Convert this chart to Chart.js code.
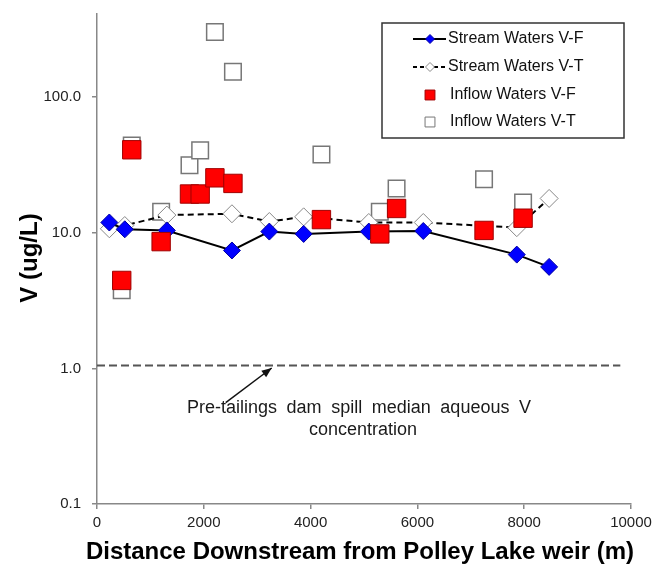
<!DOCTYPE html>
<html>
<head>
<meta charset="utf-8">
<script src="https://cdn.jsdelivr.net/npm/chart.js@4.4.0/dist/chart.umd.min.js"></script>
<style>
  html, body { margin: 0; padding: 0; background: #fff; }
  #wrap { width: 657px; height: 567px; }
</style>
</head>
<body>
<div id="wrap"><canvas id="vChart" width="657" height="567"></canvas></div>
<script>
// ===== Data =====
const streamDist = [231, 520, 1308, 2527, 3227, 3870, 5090, 6110, 7861, 8467];
const streamVF = [11.9, 10.6, 10.4, 7.4, 10.2, 9.8, 10.2, 10.3, 6.9, 5.6];
const streamVT = [10.7, 11.3, 13.5, 13.8, 12.1, 13.1, 11.9, 11.9, 10.9, 17.9];

const inflowDist = [463, 651, 1201, 1732, 1932, 2208, 2546, 4203, 5296, 5610, 7248, 7979];
const inflowVF = [4.45, 40.9, 8.6, 19.3, 19.3, 25.4, 23.1, 12.5, 9.8, 15.1, 10.4, 12.8];
const inflowVT = [3.77, 44, 14.3, 31.4, 40.5, 302, 154, 37.8, 14.3, 21.2, 24.8, 16.7];

// pre-tailings median and the distance span of its reference line
const baselineValue = 1.05;
const baselineSpan = [0, 9800];

const yTicks = [0.1, 1, 10, 100];
const yTickLabels = ['0.1', '1.0', '10.0', '100.0'];
const xTickLabels = ['0', '2000', '4000', '6000', '8000', '10000'];

const FONT = '"Liberation Sans", Arial, sans-serif';

const toXY = (xs, ys) => xs.map((x, i) => ({ x: x, y: ys[i] }));

// ===== Extra drawing: annotation, axis titles, legend box =====
const extras = {
  id: 'extras',
  afterDraw(chart) {
    const ctx = chart.ctx;
    const h = Chart.helpers;
    ctx.save();

    // arrow to the baseline
    const ax0 = 225.7, ay0 = 402.7, ax1 = 271.7, ay1 = 368;
    ctx.strokeStyle = '#111';
    ctx.fillStyle = '#111';
    ctx.lineWidth = 1.5;
    ctx.beginPath();
    ctx.moveTo(ax0, ay0);
    ctx.lineTo(ax1, ay1);
    ctx.stroke();
    const ang = Math.atan2(ay1 - ay0, ax1 - ax0);
    ctx.beginPath();
    ctx.moveTo(ax1, ay1);
    ctx.lineTo(ax1 - 10 * Math.cos(ang) + 4 * Math.sin(ang), ay1 - 10 * Math.sin(ang) - 4 * Math.cos(ang));
    ctx.lineTo(ax1 - 10 * Math.cos(ang) - 4 * Math.sin(ang), ay1 - 10 * Math.sin(ang) + 4 * Math.cos(ang));
    ctx.closePath();
    ctx.fill();

    // annotation text
    ctx.font = '18px ' + FONT;
    ctx.fillStyle = '#1a1a1a';
    ctx.textBaseline = 'middle';
    ctx.textAlign = 'left';
    const line1 = 'Pre-tailings dam spill median aqueous V';
    const words = line1.split(' ');
    const target = 344;
    const natural = ctx.measureText(line1).width;
    const spaceW = ctx.measureText(' ').width + (target - natural) / (words.length - 1);
    let tx = 359 - target / 2;
    words.forEach(w => {
      ctx.fillText(w, tx, 408);
      tx += ctx.measureText(w).width + spaceW;
    });
    ctx.textAlign = 'center';
    ctx.fillText('concentration', 363, 430);

    // axis titles
    ctx.fillStyle = '#000';
    ctx.font = 'bold 24px ' + FONT;
    ctx.fillText('Distance Downstream from Polley Lake weir (m)', 360, 552);
    ctx.save();
    ctx.translate(30, 258);
    ctx.rotate(-Math.PI / 2);
    ctx.fillText('V (ug/L)', 0, 0);
    ctx.restore();

    // legend box
    ctx.strokeStyle = '#333';
    ctx.lineWidth = 1.5;
    ctx.strokeRect(382, 23, 242, 115);
    ctx.font = '16px ' + FONT;
    ctx.textAlign = 'left';
    ctx.fillStyle = '#111';

    const rows = [
      { label: 'Stream Waters V-F', y: 39, line: [], style: 'rectRot', r: 4.5, fill: '#0000ff', stroke: '#0000a0', tx: 448 },
      { label: 'Stream Waters V-T', y: 67, line: [4, 3], style: 'rectRot', r: 4.5, fill: '#fff', stroke: '#888', tx: 448 },
      { label: 'Inflow Waters V-F', y: 95, style: 'rect', r: 7, fill: '#ff0000', stroke: '#a00000', tx: 450 },
      { label: 'Inflow Waters V-T', y: 122, style: 'rect', r: 7, fill: '#fff', stroke: '#777', tx: 450 }
    ];
    rows.forEach(row => {
      if (row.line) {
        ctx.strokeStyle = '#000';
        ctx.lineWidth = 2;
        ctx.setLineDash(row.line);
        ctx.beginPath();
        ctx.moveTo(413, row.y);
        ctx.lineTo(446, row.y);
        ctx.stroke();
        ctx.setLineDash([]);
      }
      ctx.fillStyle = row.fill;
      ctx.strokeStyle = row.stroke;
      ctx.lineWidth = 1;
      h.drawPoint(ctx, { pointStyle: row.style, radius: row.r, borderWidth: 1, rotation: 0 }, 430, row.y);
      ctx.fillStyle = '#111';
      ctx.fillText(row.label, row.tx, row.y);
    });

    ctx.restore();
  }
};

// ===== Chart =====
const ctx = document.getElementById('vChart').getContext('2d');
const vChart = new Chart(ctx, {
  type: 'scatter',
  data: {
    datasets: [
      {
        label: 'Inflow Waters V-F',
        data: toXY(inflowDist, inflowVF),
        pointStyle: 'rect',
        pointRadius: 13,
        backgroundColor: '#ff0000',
        borderColor: '#a00000',
        borderWidth: 1
      },
      {
        label: 'Stream Waters V-F',
        data: toXY(streamDist, streamVF),
        showLine: true,
        borderColor: '#000',
        borderWidth: 2,
        pointStyle: 'rectRot',
        pointRadius: 8.5,
        pointBackgroundColor: '#0000ff',
        pointBorderColor: '#0000a0',
        pointBorderWidth: 1
      },
      {
        label: 'Stream Waters V-T',
        data: toXY(streamDist, streamVT),
        showLine: true,
        borderColor: '#000',
        borderWidth: 2,
        borderDash: [6, 4],
        pointStyle: 'rectRot',
        pointRadius: 9,
        pointBackgroundColor: '#fff',
        pointBorderColor: '#888',
        pointBorderWidth: 1
      },
      {
        label: 'Inflow Waters V-T',
        data: toXY(inflowDist, inflowVT),
        pointStyle: 'rect',
        pointRadius: 11.7,
        backgroundColor: '#fff',
        borderColor: '#777',
        borderWidth: 1.5
      },
      {
        label: 'Pre-tailings median',
        data: baselineSpan.map(x => ({ x: x, y: baselineValue })),
        showLine: true,
        borderColor: '#555',
        borderWidth: 2,
        borderDash: [8, 4],
        pointRadius: 0
      }
    ]
  },
  options: {
    responsive: false,
    animation: false,
    layout: { padding: { top: 13, right: 26, left: 0, bottom: 0 } },
    plugins: {
      legend: { display: false },
      tooltip: { enabled: false }
    },
    scales: {
      x: {
        type: 'linear',
        min: 0,
        max: 10000,
        afterFit: s => {
          s.height = 63;
          s.paddingLeft = 0;
          s.paddingRight = 0;
        },
        ticks: {
          stepSize: 2000,
          padding: 5,
          maxRotation: 0,
          color: '#222',
          font: { family: FONT, size: 15 },
          callback: (v) => xTickLabels[Math.round(v / 2000)] ?? ''
        },
        grid: { drawOnChartArea: false, tickLength: 5, color: '#888', lineWidth: 1.5 },
        border: { color: '#888', width: 1.5 }
      },
      y: {
        type: 'logarithmic',
        min: 0.1,
        max: 410,
        afterFit: s => {
          s.width = 97;
          s.paddingTop = 0;
          s.paddingBottom = 0;
        },
        afterBuildTicks: s => { s.ticks = yTicks.map(v => ({ value: v })); },
        ticks: {
          padding: 11,
          color: '#222',
          font: { family: FONT, size: 15 },
          callback: (v) => {
            const i = yTicks.findIndex(t => Math.abs(t - v) < 1e-9);
            return i >= 0 ? yTickLabels[i] : '';
          }
        },
        grid: { drawOnChartArea: false, tickLength: 5, color: '#888', lineWidth: 1.5 },
        border: { color: '#888', width: 1.5 }
      }
    }
  },
  plugins: [extras]
});
</script>
</body>
</html>
